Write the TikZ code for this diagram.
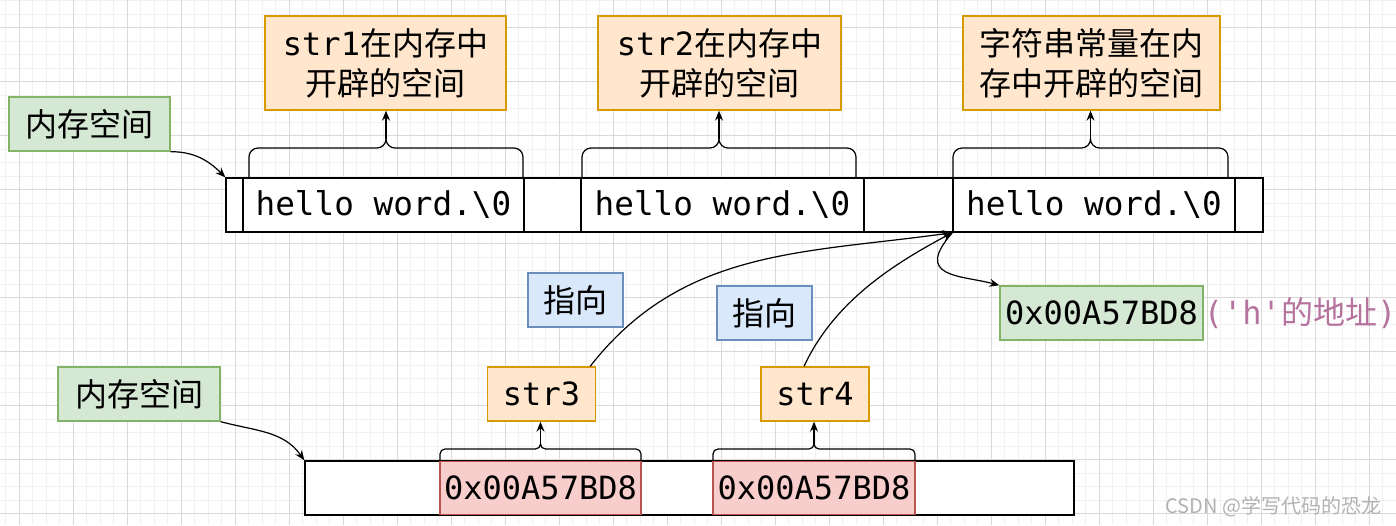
\documentclass[tikz,border=0pt]{standalone}
\usepackage{fontspec}
\setmainfont{Noto Sans CJK SC}
\setmonofont{DejaVu Sans Mono}
\usepackage{tikz}
\usetikzlibrary{arrows.meta,calc}
\definecolor{grnfill}{HTML}{D5E8D4}\definecolor{grndraw}{HTML}{82B366}
\definecolor{orgfill}{HTML}{FFE6CC}\definecolor{orgdraw}{HTML}{D79B00}
\definecolor{blufill}{HTML}{DAE8FC}\definecolor{bludraw}{HTML}{6C8EBF}
\definecolor{redfill}{HTML}{F8CECC}\definecolor{reddraw}{HTML}{B85450}
\definecolor{notepurple}{HTML}{B5739D}
\definecolor{gridmaj}{HTML}{D9D9D9}\definecolor{gridmin}{HTML}{F1F1F1}
% brace over a cell: left x, right x, base y, height, radius, tip name
\newcommand{\mbrace}[6]{%
  \pgfmathsetmacro{\bmid}{(#1+#2)/2}%
  \draw[line width=0.9pt] (#1,#3) -- (#1,{#3+#4-#5}) arc[start angle=180,end angle=90,radius=#5]
    -- ({\bmid-#5},{#3+#4}) arc[start angle=-90,end angle=0,radius=#5]
    coordinate (#6)
    arc[start angle=180,end angle=270,radius=#5]
    -- ({#2-#5},{#3+#4}) arc[start angle=90,end angle=0,radius=#5] -- (#2,#3);}

\begin{document}
\begin{tikzpicture}[x=0.75pt,y=0.75pt,
  font=\fontsize{24}{30}\selectfont,
  wd/.style={minimum width=#1*0.75pt},
  ht/.style={minimum height=#1*0.75pt},
  box/.style={draw,line width=1pt,inner sep=0pt,align=center,ht=54},
  greenbox/.style={box,fill=grnfill,draw=grndraw},
  orangebox/.style={box,fill=orgfill,draw=orgdraw},
  bluebox/.style={box,fill=blufill,draw=bludraw},
  redbox/.style={box,fill=redfill,draw=reddraw},
  cell/.style={box,fill=white,draw=black},
  hello/.style={cell,font=\fontsize{24.5}{30}\selectfont},
  arr/.style={line width=0.9pt,-{Stealth[length=7.5pt,width=6pt,inset=2.5pt]}},
  gridminor/.style={gridmin,line width=0.6pt},
  gridmajor/.style={gridmaj,line width=0.9pt}]
  \useasboundingbox[fill=white] (0,0) rectangle (1396,525);
  % background grid
  \foreach \i in {0,...,103} \draw[gridminor] ({5.8+13.5*\i},0) -- ++(0,525);
  \foreach \j in {0,...,38} \draw[gridminor] (0,{524.3-13.5*\j}) -- ++(1396,0);
  \foreach \i in {0,...,25} \draw[gridmajor] ({19.3+54*\i},0) -- ++(0,525);
  \foreach \j in {0,...,9} \draw[gridmajor] (0,{497.3-54*\j}) -- ++(1396,0);

  % upper memory
  \node[greenbox,wd=161] (mem1) at (89.5,401) {内存空间};
  \node[cell,wd=1037] (bar1) at (744.5,320) {};
  \node[hello,wd=281] (h1) at (383.5,320) {\texttt{hello word.\textbackslash 0}};
  \node[hello,wd=283] (h2) at (722.5,320) {\texttt{hello word.\textbackslash 0}};
  \node[hello,wd=282] (h3) at (1094,320) {\texttt{hello word.\textbackslash 0}};
  \node[orangebox,wd=241,ht=94] (desc1) at (385.5,462) {\texttt{str1}在内存中\\开辟的空间};
  \node[orangebox,wd=243,ht=94] (desc2) at (719.5,462) {\texttt{str2}在内存中\\开辟的空间};
  \node[orangebox,wd=257,ht=94] (desc3) at (1091.5,462) {字符串常量在内\\存中开辟的空间};
  \mbrace{249}{523}{347}{30}{9}{b1}
  \mbrace{582}{856}{347}{30}{9}{b2}
  \mbrace{953}{1228}{347}{30}{9}{b3}
  \draw[arr] (b1) -- (b1 |- desc1.south);
  \draw[arr] (b2) -- (b2 |- desc2.south);
  \draw[arr] (b3) -- (b3 |- desc3.south);
  \draw[arr] (mem1.south east) to[out=0,in=135] (bar1.north west);

  % lower memory
  \node[greenbox,wd=162] (mem2) at (139,131) {内存空间};
  \node[cell,wd=769] (bar2) at (689.5,37) {};
  \node[redbox,wd=201] (p3) at (540.5,37) {\texttt{0x00A57BD8}};
  \node[redbox,wd=202] (p4) at (814,37) {\texttt{0x00A57BD8}};
  \draw[line width=1pt] (bar2.north west) rectangle (bar2.south east);
  \node[orangebox,wd=108] (str3) at (541.5,131) {\texttt{str3}};
  \node[orangebox,wd=108] (str4) at (815,131) {\texttt{str4}};
  \mbrace{440}{641}{64}{12}{5}{b4}
  \mbrace{713}{915}{64}{12}{5}{b5}
  \draw[arr] (b4) -- (b4 |- str3.south);
  \draw[arr] (b5) -- (b5 |- str4.south);
  \draw[arr] (mem2.south east) to[out=-15,in=125] (bar2.north west);

  % pointers
  \node[bluebox,wd=95] (zx1) at (575.5,225) {指向};
  \node[bluebox,wd=95] (zx2) at (764.5,212) {指向};
  \node[greenbox,wd=203] (addr) at (1101.5,212) {\texttt{0x00A57BD8}};
  \node[anchor=west,inner sep=0pt,text=notepurple] (note) at (addr.east) {\texttt{('h'}的地址\texttt{)}};
  \draw[arr] ($(str3.north east)+(-6,0)$) .. controls +(52:150) and +(188:150) .. (h3.south west);
  \draw[arr] ($(str4.north)+(-11,0)$) .. controls +(65:70) and +(208:70) .. (h3.south west);
  \draw[arr] (h3.south west) .. controls +(229:60) and +(165:40) .. (addr.north west);

  \node[anchor=east,text=gray!60,font=\fontsize{15}{18}\selectfont] (wm) at (1386,18) {CSDN @学写代码的恐龙};
\end{tikzpicture}
\end{document}
